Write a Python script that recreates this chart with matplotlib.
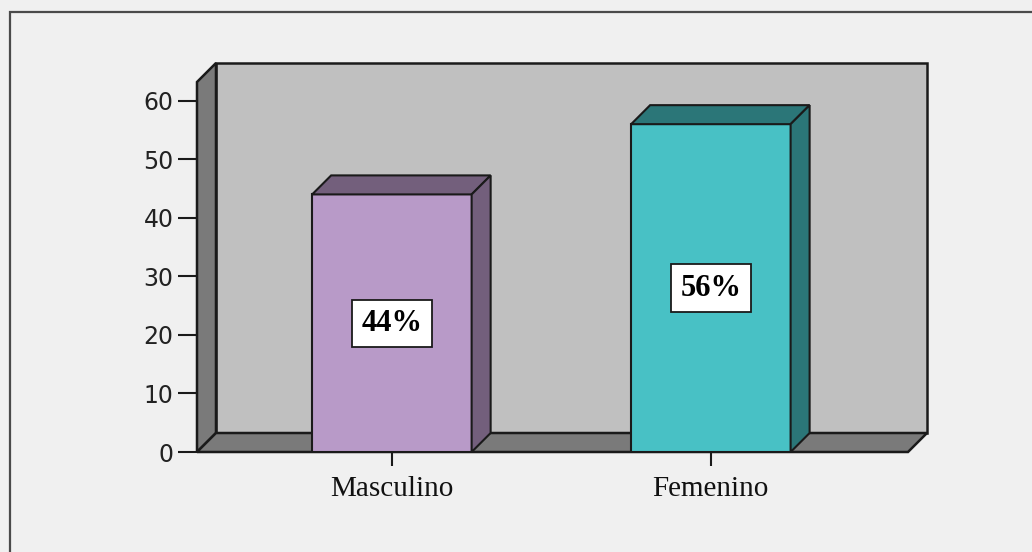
import matplotlib.pyplot as plt
from matplotlib.patches import Polygon, Rectangle

# data
categories = ['Masculino', 'Femenino']
values = [44, 56]
value_labels = ['44%', '56%']
yticks = [0, 10, 20, 30, 40, 50, 60]

face_colors = ['#b89ac8', '#48c1c5']
dark_colors = ['#735f7c', '#2b7678']
edge = '#1a1a1a'

fig = plt.figure(figsize=(10.32, 5.52), dpi=100)
fig.patch.set_facecolor('#f0f0f0')

# outer frame (only top and left edges visible)
fig.add_artist(Rectangle((10 / 1032, -0.2), 1.5, 1.2 - 12 / 552,
                         transform=fig.transFigure, fill=False,
                         ec='#4a4a4a', lw=1.6))

ax = fig.add_axes([197 / 1032, 100 / 552, 711 / 1032, 370 / 552])
ax.patch.set_visible(False)
for s in ax.spines.values():
    s.set_visible(False)

x = list(range(len(categories)))
x0, x1 = -0.611, 1.618
y0, y1 = 0, 63.2
ax.set_xlim(x0, x1)
ax.set_ylim(y0, y1)

# 3D depth in data units (about 19 px)
bb = ax.get_window_extent()
depth = 19
ddx = depth * (x1 - x0) / bb.width
ddy = depth * (y1 - y0) / bb.height

wall_kw = dict(closed=True, ec=edge, lw=1.8, clip_on=False, joinstyle='miter')
# back wall
ax.add_patch(Polygon([(x0 + ddx, ddy), (x1 + ddx, ddy), (x1 + ddx, y1 + ddy),
                      (x0 + ddx, y1 + ddy)], fc='#c0c0c0', zorder=1, **wall_kw))
# left wall
ax.add_patch(Polygon([(x0, 0), (x0 + ddx, ddy), (x0 + ddx, y1 + ddy), (x0, y1)],
                     fc='#7a7a7a', zorder=1, **wall_kw))
# floor
ax.add_patch(Polygon([(x0, 0), (x0 + ddx, ddy), (x1 + ddx, ddy), (x1, 0)],
                     fc='#7a7a7a', zorder=1, **wall_kw))

# bars
w = 0.5
ax.bar(x, values, width=w, color=face_colors, edgecolor=edge, lw=1.5, zorder=3)
for xi, v, dc in zip(x, values, dark_colors):
    xl, xr = xi - w / 2, xi + w / 2
    ax.add_patch(Polygon([(xl, v), (xl + ddx, v + ddy), (xr + ddx, v + ddy), (xr, v)],
                         closed=True, fc=dc, ec=edge, lw=1.5, zorder=3, clip_on=False))
    ax.add_patch(Polygon([(xr, 0), (xr + ddx, ddy), (xr + ddx, v + ddy), (xr, v)],
                         closed=True, fc=dc, ec=edge, lw=1.5, zorder=3, clip_on=False))

for xi, v, lab in zip(x, values, value_labels):
    ax.text(xi, v / 2, lab, ha='center', va='center', zorder=5,
            family='Liberation Serif', fontweight='bold', fontsize=22,
            bbox=dict(boxstyle='square,pad=0.3', fc='white', ec=edge, lw=1.3))

# axes ticks
ax.set_yticks(yticks)
ax.set_xticks(x)
ax.set_xticklabels(categories, family='Liberation Serif', fontsize=21)
ax.tick_params(axis='y', length=14, width=1.5, color=edge, pad=3,
               labelsize=17, labelcolor='#222222')
ax.tick_params(axis='x', length=10, width=1.5, color=edge, pad=7,
               labelcolor='#111111')

fig.savefig('out.png', dpi=100, facecolor=fig.get_facecolor())
